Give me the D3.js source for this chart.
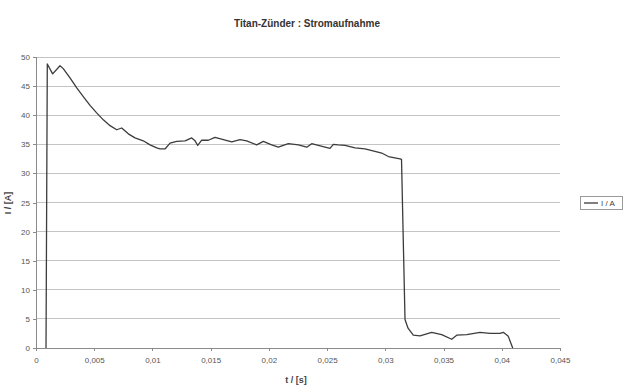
<!DOCTYPE html>
<html><head><meta charset="utf-8">
<script src="https://cdn.jsdelivr.net/npm/d3@7"></script>
<style>body{margin:0;background:#fff}svg{display:block}</style>
</head><body>
<svg id="c" width="640" height="391"></svg>
<script>
const title = "Titan-Zünder : Stromaufnahme";
const xLabel = "t / [s]";
const yLabel = "I / [A]";
const seriesName = "I / A";
const xTicks = [0,0.005,0.01,0.015,0.02,0.025,0.03,0.035,0.04,0.045];
const yTicks = [0,5,10,15,20,25,30,35,40,45,50];
const tValues = [0.00086,0.00097,0.00143,0.00206,0.00234,0.00292,0.0035,0.00406,0.00464,0.00521,0.00578,0.00636,0.00693,0.00736,0.00793,0.0085,0.00921,0.00979,0.01037,0.01065,0.01108,0.01151,0.01208,0.0128,0.01337,0.01366,0.01389,0.01423,0.0148,0.01537,0.01609,0.01681,0.01752,0.01809,0.01895,0.01952,0.02024,0.02081,0.02167,0.02253,0.02325,0.02368,0.02424,0.02525,0.02553,0.02596,0.02654,0.0274,0.02825,0.02911,0.02969,0.03026,0.03126,0.03139,0.03169,0.03195,0.0324,0.03298,0.03398,0.03484,0.0357,0.03613,0.03699,0.03813,0.03899,0.03985,0.04013,0.04056,0.04094];
const iValues = [0,48.8,47.1,48.5,48.0,46.4,44.7,43.2,41.7,40.4,39.2,38.2,37.5,37.8,36.8,36.1,35.6,34.9,34.4,34.2,34.2,35.2,35.5,35.6,36.1,35.6,34.8,35.7,35.7,36.2,35.8,35.4,35.8,35.6,34.9,35.5,34.9,34.5,35.1,34.9,34.5,35.1,34.8,34.3,35.0,34.9,34.8,34.4,34.2,33.8,33.5,32.9,32.5,32.4,4.9,3.4,2.2,2.1,2.7,2.3,1.5,2.2,2.3,2.7,2.5,2.5,2.7,2.0,0];

const svg = d3.select("#c");
const L = 36, R = 560, T = 57, B = 348;
const x = d3.scaleLinear().domain([0,0.045]).range([L,R]);
const y = d3.scaleLinear().domain([0,50]).range([B,T]);
const fmt = d => d3.format("")(d).replace(".", ",");
const font = "Arial, 'Liberation Sans', sans-serif";

// grid
svg.append("g").selectAll("line").data(yTicks.filter(d=>d>0)).join("line")
  .attr("x1",L).attr("x2",R).attr("y1",d=>y(d)).attr("y2",d=>y(d))
  .attr("stroke","#c4c4c4").attr("stroke-width",1).attr("shape-rendering","crispEdges");

// axes
const ya = svg.append("g").attr("transform",`translate(${L},0)`)
  .call(d3.axisLeft(y).tickValues(yTicks).tickSize(3).tickPadding(3).tickFormat(d=>d));
const xa = svg.append("g").attr("transform",`translate(0,${B})`)
  .call(d3.axisBottom(x).tickValues(xTicks).tickSize(3).tickPadding(6).tickFormat(fmt));
[ya,xa].forEach(a=>{
  a.select(".domain").attr("stroke","#8a8a8a").attr("shape-rendering","crispEdges");
  a.selectAll(".tick line").attr("stroke","#8a8a8a").attr("shape-rendering","crispEdges");
  a.selectAll("text").attr("fill","#555").style("font-family",font).style("font-size","8px");
});

// line
const pts = tValues.map((t,i)=>[t,iValues[i]]);
svg.append("path").datum(pts)
  .attr("d", d3.line().x(d=>x(d[0])).y(d=>y(d[1])))
  .attr("fill","none").attr("stroke","#3c3c3c").attr("stroke-width",1.3).attr("stroke-linejoin","round");

// title & labels
svg.append("text").attr("x",307).attr("y",27).attr("text-anchor","middle")
  .style("font-family",font).style("font-size","10px").style("font-weight","bold").attr("fill","#333").text(title);
svg.append("text").attr("x",296).attr("y",383).attr("text-anchor","middle")
  .style("font-family",font).style("font-size","9px").style("font-weight","bold").attr("fill","#444").text(xLabel);
svg.append("text").attr("transform","translate(11,203) rotate(-90)").attr("text-anchor","middle")
  .style("font-family",font).style("font-size","9px").style("font-weight","bold").attr("fill","#444").text(yLabel);

// legend
const lg = svg.append("g");
lg.append("rect").attr("x",580.5).attr("y",196.5).attr("width",42).attr("height",13)
  .attr("fill","none").attr("stroke","#9a9a9a");
lg.append("line").attr("x1",584).attr("x2",598).attr("y1",203).attr("y2",203)
  .attr("stroke","#3c3c3c").attr("stroke-width",1.3);
lg.append("text").attr("x",601).attr("y",206).style("font-family",font).style("font-size","8px")
  .attr("fill","#444").text(seriesName);
</script>
</body></html>
